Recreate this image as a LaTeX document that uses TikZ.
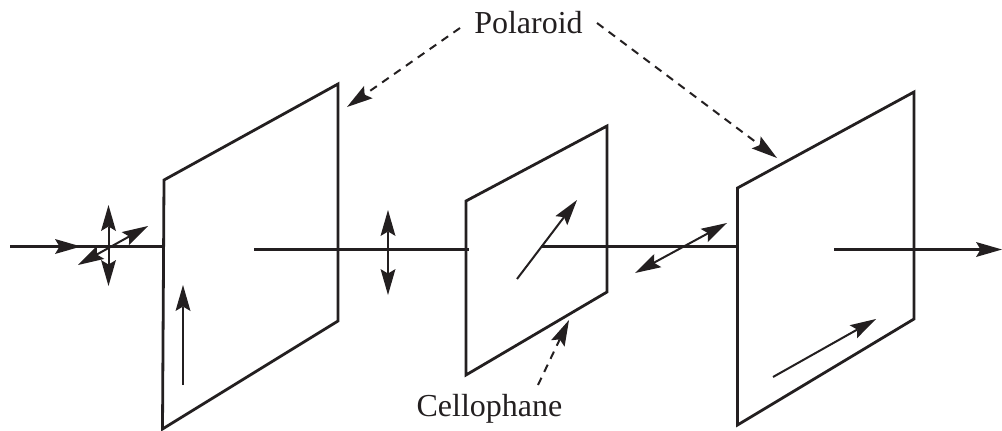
\documentclass[tikz,border=0pt]{standalone}
\usepackage{fontspec}
\setmainfont{Liberation Serif}
\usetikzlibrary{arrows.meta}
\tikzset{
  panel/.style={draw=ink,line width=2.8pt,line join=miter},
  ray/.style={draw=ink,line width=2.6pt},
  headtip/.tip={Stealth[length=26pt,width=15pt,inset=4.5pt,line width=0pt]},
  arrowline/.style={draw=ink,fill=ink,line width=2pt,-headtip},
  dbl/.style={draw=ink,fill=ink,line width=2pt,headtip-headtip},
  dash line/.style={draw=ink,line width=2pt,-headtip,dash pattern=on 8pt off 6.5pt},
  label/.style={inner sep=0pt,text=ink,font=\fontsize{32}{36}\selectfont}
}
\definecolor{ink}{HTML}{231F20}
\begin{document}
\begin{tikzpicture}[x=1pt,y=-1pt]
\useasboundingbox (0,0) rectangle (1002,431);
% panels
\draw[panel] (164,180) -- (338,84) -- (338,321) -- (162.5,429) -- cycle;
\draw[panel] (466,201) -- (607,126) -- (607,292) -- (466,375) -- cycle;
\draw[panel] (737.5,188) -- (914,92) -- (914,319) -- (737.5,425) -- cycle;
% anchors
\coordinate (inS) at (10,246.5);
\coordinate (inT) at (81,246.5);
\coordinate (inE) at (164,246.5);
\coordinate (midS) at (254,249.5);
\coordinate (midE) at (469,249.5);
\coordinate (cS) at (541,246.5);
\coordinate (cE) at (737,246.5);
\coordinate (outS) at (834,249.5);
\coordinate (outE) at (1002,249.5);
\coordinate (v1a) at (108.5,205);
\coordinate (v1b) at (108.5,286);
\coordinate (d1a) at (78,265);
\coordinate (d1b) at (148,226);
\coordinate (u1a) at (183,385);
\coordinate (u1b) at (183,285);
\coordinate (v2a) at (388,210);
\coordinate (v2b) at (388,295);
\coordinate (c1a) at (517,279);
\coordinate (c1b) at (577,200);
\coordinate (d2a) at (635,273);
\coordinate (d2b) at (727,223);
\coordinate (p3a) at (773,377);
\coordinate (p3b) at (876,319);
\coordinate (pL) at (347,107);
\coordinate (pR) at (777,158);
\coordinate (cT) at (569,320);
\coordinate (pLs) at (460,28);
\coordinate (pRs) at (597,23);
\coordinate (cSs) at (538,385);
% rays
\draw[ray] (inS) -- (inE);
\draw[arrowline] (inS) -- (inT);
\draw[ray] (midS) -- (midE);
\draw[ray] (cS) -- (cE);
\draw[arrowline,line width=2.6pt] (outS) -- (outE);
% polarisation arrows
\draw[dbl] (v1a) -- (v1b);
\draw[dbl] (d1a) -- (d1b);
\draw[arrowline] (u1a) -- (u1b);
\draw[dbl] (v2a) -- (v2b);
\draw[arrowline] (c1a) -- (c1b);
\draw[dbl] (d2a) -- (d2b);
\draw[arrowline] (p3a) -- (p3b);
% labels
\node[label,anchor=base] (polaroid) at (528.5,33) {Polaroid};
\node[label,anchor=base] (cello) at (489.5,416.5) {Cellophane};
\draw[dash line] (pLs) -- (pL);
\draw[dash line] (pRs) -- (pR);
\draw[dash line] (cSs) -- (cT);
\end{tikzpicture}
\end{document}
